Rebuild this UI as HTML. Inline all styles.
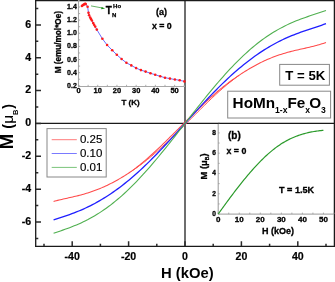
<!DOCTYPE html>
<html><head><meta charset="utf-8"><style>
html,body{margin:0;padding:0;background:#fff;}
body{width:335px;height:282px;overflow:hidden;}
svg{display:block;font-family:"Liberation Sans",sans-serif;will-change:transform;}
text{font-family:"Liberation Sans",sans-serif;}
.s{stroke:#000;stroke-width:0.3px;}
.t{stroke:#000;stroke-width:0.2px;}
</style></head><body>
<svg width="335" height="282" viewBox="0 0 335 282">
<rect width="335" height="282" fill="#fff"/>

<line x1="35" y1="123.4" x2="334" y2="123.4" stroke="#1a1a1a" stroke-width="1.4"/>
<line x1="185" y1="0" x2="185" y2="246" stroke="#6e6e6e" stroke-width="2"/>
<path d="M53.59,201.43 L54.96,201.07 L56.33,200.72 L57.69,200.37 L59.06,200.04 L60.43,199.72 L61.80,199.40 L63.17,199.09 L64.54,198.78 L65.91,198.47 L67.28,198.17 L68.65,197.86 L70.01,197.56 L71.38,197.25 L72.75,196.93 L74.12,196.61 L75.49,196.29 L76.86,195.96 L78.23,195.62 L79.60,195.27 L80.97,194.91 L82.33,194.54 L83.70,194.16 L85.07,193.76 L86.44,193.36 L87.81,192.94 L89.18,192.50 L90.55,192.05 L91.92,191.59 L93.29,191.11 L94.66,190.61 L96.02,190.10 L97.39,189.57 L98.76,189.03 L100.13,188.46 L101.50,187.89 L102.87,187.29 L104.24,186.68 L105.61,186.06 L106.98,185.42 L108.34,184.76 L109.71,184.08 L111.08,183.39 L112.45,182.69 L113.82,181.97 L115.19,181.23 L116.56,180.48 L117.93,179.71 L119.30,178.92 L120.66,178.12 L122.03,177.30 L123.40,176.47 L124.77,175.62 L126.14,174.75 L127.51,173.87 L128.88,172.97 L130.25,172.05 L131.62,171.10 L132.98,170.10 L134.35,169.08 L135.72,168.05 L137.09,166.99 L138.46,165.92 L139.83,164.82 L141.20,163.72 L142.57,162.59 L143.94,161.45 L145.30,160.29 L146.67,159.11 L148.04,157.92 L149.41,156.71 L150.78,155.49 L152.15,154.25 L153.52,153.01 L154.89,151.75 L156.26,150.47 L157.62,149.19 L158.99,147.89 L160.36,146.59 L161.73,145.28 L163.10,143.96 L164.47,142.63 L165.84,141.29 L167.21,139.95 L168.58,138.60 L169.94,137.24 L171.31,135.88 L172.68,134.52 L174.05,133.15 L175.42,131.78 L176.79,130.41 L178.16,129.04 L179.53,127.67 L180.90,126.29 L182.27,124.92 L183.63,123.55 L185.00,122.18 L186.37,120.81 L187.74,119.44 L189.11,118.08 L190.48,116.72 L191.85,115.37 L193.22,114.02 L194.59,112.68 L195.95,111.34 L197.32,110.01 L198.69,108.69 L200.06,107.38 L201.43,106.07 L202.80,104.77 L204.17,103.49 L205.54,102.21 L206.91,100.94 L208.27,99.69 L209.64,98.44 L211.01,97.21 L212.38,95.99 L213.75,94.79 L215.12,93.59 L216.49,92.42 L217.86,91.25 L219.23,90.11 L220.59,88.97 L221.96,87.86 L223.33,86.76 L224.70,85.67 L226.07,84.60 L227.44,83.55 L228.81,82.52 L230.18,81.51 L231.55,80.51 L232.91,79.53 L234.28,78.56 L235.65,77.62 L237.02,76.69 L238.39,75.78 L239.76,74.85 L241.13,73.93 L242.50,73.03 L243.87,72.14 L245.23,71.28 L246.60,70.43 L247.97,69.59 L249.34,68.77 L250.71,67.97 L252.08,67.19 L253.45,66.42 L254.82,65.67 L256.19,64.93 L257.55,64.21 L258.92,63.50 L260.29,62.81 L261.66,62.14 L263.03,61.48 L264.40,60.84 L265.77,60.21 L267.14,59.60 L268.51,59.01 L269.87,58.43 L271.24,57.87 L272.61,57.33 L273.98,56.80 L275.35,56.29 L276.72,55.79 L278.09,55.31 L279.46,54.85 L280.83,54.40 L282.20,53.96 L283.56,53.54 L284.93,53.13 L286.30,52.74 L287.67,52.36 L289.04,51.99 L290.41,51.63 L291.78,51.28 L293.15,50.94 L294.52,50.61 L295.88,50.28 L297.25,49.97 L298.62,49.65 L299.99,49.34 L301.36,49.04 L302.73,48.73 L304.10,48.43 L305.47,48.12 L306.84,47.81 L308.20,47.50 L309.57,47.18 L310.94,46.86 L312.31,46.52 L313.68,46.18 L315.05,45.83 L316.42,45.46 L317.79,45.08 L319.16,44.69 L320.52,44.28 L321.89,43.84 L323.26,43.39 L324.63,42.91 L326.00,42.41" fill="none" stroke="#ff4a4a" stroke-width="1.05"/>
<path d="M131.42,171.24 L132.78,170.34 L134.13,169.43 L135.49,168.49 L136.85,167.54 L138.20,166.57 L139.56,165.59 L140.92,164.59 L142.27,163.57 L143.63,162.53 L144.98,161.47 L146.34,160.40 L147.70,159.32 L149.05,158.22 L150.41,157.10 L151.77,155.96 L153.12,154.82 L154.48,153.65 L155.84,152.48 L157.19,151.28 L158.55,150.08 L159.91,148.86 L161.26,147.64 L162.62,146.40 L163.97,145.15 L165.33,143.88 L166.69,142.61 L168.04,141.33 L169.40,140.04 L170.76,138.74 L172.11,137.43 L173.47,136.12 L174.83,134.80 L176.18,133.47 L177.54,132.13 L178.90,130.80 L180.25,129.45 L181.61,128.10 L182.97,126.75 L184.32,125.40 L185.68,124.04 L187.03,122.68 L188.39,121.32 L189.75,119.96 L191.10,118.60 L192.46,117.24 L193.82,115.88 L195.17,114.52 L196.53,113.17 L197.89,111.81 L199.24,110.46 L200.60,109.12 L201.96,107.78 L203.31,106.44 L204.67,105.12 L206.03,103.79 L207.38,102.48 L208.74,101.17 L210.09,99.87 L211.45,98.58 L212.81,97.30 L214.16,96.04 L215.52,94.78 L216.88,93.53 L218.23,92.30 L219.59,91.08 L220.95,89.87 L222.30,88.68 L223.66,87.50 L225.02,86.34 L226.37,85.20 L227.73,84.07 L229.08,82.95 L230.44,81.86 L231.80,80.78 L233.15,79.72 L234.51,78.68 L235.87,77.65 L237.22,76.65 L238.58,75.66" fill="none" stroke="#ff4a4a" stroke-width="1.0"/>
<path d="M53.59,219.94 L55.88,219.18 L58.17,218.42 L60.46,217.66 L62.74,216.90 L65.03,216.12 L67.32,215.33 L69.61,214.52 L71.90,213.68 L74.19,212.82 L76.48,211.93 L78.77,211.01 L81.06,210.05 L83.35,209.06 L85.64,208.02 L87.93,206.94 L90.21,205.82 L92.50,204.66 L94.79,203.45 L97.08,202.19 L99.37,200.89 L101.66,199.54 L103.95,198.15 L106.24,196.71 L108.53,195.23 L110.82,193.70 L113.11,192.13 L115.40,190.51 L117.68,188.85 L119.97,187.15 L122.26,185.41 L124.55,183.62 L126.84,181.78 L129.13,179.91 L131.42,177.99 L133.71,176.02 L136.00,174.02 L138.29,171.97 L140.58,169.88 L142.87,167.74 L145.16,165.57 L147.44,163.36 L149.73,161.12 L152.02,158.83 L154.31,156.52 L156.60,154.18 L158.89,151.80 L161.18,149.40 L163.47,146.98 L165.76,144.54 L168.05,142.07 L170.34,139.59 L172.63,137.10 L174.91,134.59 L177.20,132.07 L179.49,129.55 L181.78,127.01 L184.07,124.48 L186.36,121.94 L188.65,119.41 L190.94,116.88 L193.23,114.35 L195.52,111.84 L197.81,109.33 L200.10,106.84 L202.38,104.36 L204.67,101.90 L206.96,99.46 L209.25,97.04 L211.54,94.65 L213.83,92.28 L216.12,89.94 L218.41,87.63 L220.70,85.36 L222.99,83.12 L225.28,80.92 L227.57,78.75 L229.85,76.63 L232.14,74.54 L234.43,72.50 L236.72,70.50 L239.01,68.55 L241.30,66.64 L243.59,64.77 L245.88,62.94 L248.17,61.16 L250.46,59.42 L252.75,57.73 L255.04,56.08 L257.32,54.47 L259.61,52.91 L261.90,51.39 L264.19,49.91 L266.48,48.48 L268.77,47.10 L271.06,45.76 L273.35,44.47 L275.64,43.22 L277.93,42.02 L280.22,40.86 L282.51,39.75 L284.79,38.68 L287.08,37.65 L289.37,36.67 L291.66,35.72 L293.95,34.80 L296.24,33.91 L298.53,33.06 L300.82,32.23 L303.11,31.42 L305.40,30.63 L307.69,29.86 L309.98,29.09 L312.26,28.34 L314.55,27.58 L316.84,26.82 L319.13,26.06 L321.42,25.28 L323.71,24.48 L326.00,23.66" fill="none" stroke="#2020ff" stroke-width="1.3"/>
<path d="M53.59,233.19 L55.88,232.43 L58.17,231.67 L60.46,230.90 L62.74,230.12 L65.03,229.32 L67.32,228.50 L69.61,227.65 L71.90,226.77 L74.19,225.86 L76.48,224.91 L78.77,223.93 L81.06,222.89 L83.35,221.82 L85.64,220.70 L87.93,219.53 L90.21,218.30 L92.50,217.03 L94.79,215.70 L97.08,214.32 L99.37,212.88 L101.66,211.38 L103.95,209.83 L106.24,208.22 L108.53,206.55 L110.82,204.82 L113.11,203.03 L115.40,201.18 L117.68,199.28 L119.97,197.32 L122.26,195.30 L124.55,193.22 L126.84,191.09 L129.13,188.91 L131.42,186.67 L133.71,184.38 L136.00,182.04 L138.29,179.65 L140.58,177.21 L142.87,174.73 L145.16,172.21 L147.44,169.64 L149.73,167.03 L152.02,164.38 L154.31,161.70 L156.60,158.99 L158.89,156.24 L161.18,153.46 L163.47,150.66 L165.76,147.83 L168.05,144.98 L170.34,142.11 L172.63,139.23 L174.91,136.33 L177.20,133.42 L179.49,130.50 L181.78,127.57 L184.07,124.64 L186.36,121.71 L188.65,118.78 L190.94,115.85 L193.23,112.93 L195.52,110.02 L197.81,107.13 L200.10,104.24 L202.38,101.38 L204.67,98.53 L206.96,95.71 L209.25,92.91 L211.54,90.14 L213.83,87.40 L216.12,84.69 L218.41,82.01 L220.70,79.38 L222.99,76.78 L225.28,74.21 L227.57,71.70 L229.85,69.22 L232.14,66.80 L234.43,64.42 L236.72,62.09 L239.01,59.81 L241.30,57.58 L243.59,55.40 L245.88,53.28 L248.17,51.22 L250.46,49.21 L252.75,47.26 L255.04,45.37 L257.32,43.53 L259.61,41.75 L261.90,40.04 L264.19,38.38 L266.48,36.77 L268.77,35.23 L271.06,33.75 L273.35,32.32 L275.64,30.94 L277.93,29.63 L280.22,28.36 L282.51,27.15 L284.79,25.99 L287.08,24.87 L289.37,23.81 L291.66,22.79 L293.95,21.80 L296.24,20.86 L298.53,19.96 L300.82,19.09 L303.11,18.24 L305.40,17.42 L307.69,16.63 L309.98,15.85 L312.26,15.08 L314.55,14.33 L316.84,13.57 L319.13,12.82 L321.42,12.05 L323.71,11.28 L326.00,10.48" fill="none" stroke="#50b050" stroke-width="1.1"/>
<path d="M35.7,0 V246.4 M35,0.5 H335 M334.4,0 V247 M35,246.4 H335" stroke="#1a1a1a" stroke-width="1.3" fill="none"/>
<path d="M36,238.39 h2.3 M36,221.97 h5.0 M36,205.55 h2.3 M36,189.13 h5.0 M36,172.71 h2.3 M36,156.29 h5.0 M36,139.87 h2.3 M36,123.45 h5.0 M36,107.03 h2.3 M36,90.61 h5.0 M36,74.19 h2.3 M36,57.77 h5.0 M36,41.35 h2.3 M36,24.93 h5.0 M36,8.51 h2.3 M44.00,246 v-2.3 M72.20,246 v-4.7 M100.40,246 v-2.3 M128.60,246 v-4.7 M156.80,246 v-2.3 M185.00,246 v-4.7 M213.20,246 v-2.3 M241.40,246 v-4.7 M269.60,246 v-2.3 M297.80,246 v-4.7 M326.00,246 v-2.3" stroke="#2a2a2a" stroke-width="1.5" fill="none"/>
<text x="31.2" y="27.78" font-size="10.6" font-weight="bold" text-anchor="end" class="t">6</text>
<text x="31.2" y="60.62" font-size="10.6" font-weight="bold" text-anchor="end" class="t">4</text>
<text x="31.2" y="93.46" font-size="10.6" font-weight="bold" text-anchor="end" class="t">2</text>
<text x="31.2" y="126.30" font-size="10.6" font-weight="bold" text-anchor="end" class="t">0</text>
<text x="31.2" y="159.14" font-size="10.6" font-weight="bold" text-anchor="end" class="t">-2</text>
<text x="31.2" y="191.98" font-size="10.6" font-weight="bold" text-anchor="end" class="t">-4</text>
<text x="31.2" y="224.82" font-size="10.6" font-weight="bold" text-anchor="end" class="t">-6</text>
<text x="72.20" y="259.7" font-size="10.6" font-weight="bold" text-anchor="middle" class="t">-40</text>
<text x="128.60" y="259.7" font-size="10.6" font-weight="bold" text-anchor="middle" class="t">-20</text>
<text x="185.00" y="259.7" font-size="10.6" font-weight="bold" text-anchor="middle" class="t">0</text>
<text x="241.40" y="259.7" font-size="10.6" font-weight="bold" text-anchor="middle" class="t">20</text>
<text x="297.80" y="259.7" font-size="10.6" font-weight="bold" text-anchor="middle" class="t">40</text>
<text x="187.3" y="277.9" font-size="14.8" font-weight="bold" text-anchor="middle">H (kOe)</text>
<text transform="translate(13.3,149.3) rotate(-90)" font-size="14.5" font-weight="bold"><tspan font-size="18.5">M</tspan><tspan dx="1.2"> (</tspan><tspan font-weight="normal" font-size="15.5">μ</tspan><tspan font-size="7.5" dy="5">B</tspan><tspan dy="-5" dx="0.7">)</tspan></text>
<path d="M78.5,0 V86.5 M78,86.5 H185" stroke="#a8a8a8" stroke-width="1.1" fill="none"/>
<path d="M78.50,86.2 v-1.4 M88.11,86.2 v-1.4 M97.72,86.2 v-1.4 M107.33,86.2 v-1.4 M116.94,86.2 v-1.4 M126.55,86.2 v-1.4 M136.16,86.2 v-1.4 M145.77,86.2 v-1.4 M155.38,86.2 v-1.4 M164.99,86.2 v-1.4 M174.60,86.2 v-1.4 M184.21,86.2 v-1.4 M78.5,85.80 h1.6 M78.5,79.23 h1.6 M78.5,72.67 h1.6 M78.5,66.10 h1.6 M78.5,59.53 h1.6 M78.5,52.97 h1.6 M78.5,46.40 h1.6 M78.5,39.83 h1.6 M78.5,33.26 h1.6 M78.5,26.70 h1.6 M78.5,20.13 h1.6 M78.5,13.56 h1.6 M78.5,7.00 h1.6 M78.5,0.43 h1.6" stroke="#999" stroke-width="0.8" fill="none"/>
<text x="76.8" y="87.80" font-size="7" font-weight="bold" text-anchor="end" class="s">0.2</text>
<text x="76.8" y="74.67" font-size="7" font-weight="bold" text-anchor="end" class="s">0.4</text>
<text x="76.8" y="61.53" font-size="7" font-weight="bold" text-anchor="end" class="s">0.6</text>
<text x="76.8" y="48.40" font-size="7" font-weight="bold" text-anchor="end" class="s">0.8</text>
<text x="76.8" y="35.26" font-size="7" font-weight="bold" text-anchor="end" class="s">1.0</text>
<text x="76.8" y="22.13" font-size="7" font-weight="bold" text-anchor="end" class="s">1.2</text>
<text x="76.8" y="9.00" font-size="7" font-weight="bold" text-anchor="end" class="s">1.4</text>
<text x="78.50" y="93.4" font-size="7.5" font-weight="bold" text-anchor="middle" class="s">0</text>
<text x="97.72" y="93.4" font-size="7.5" font-weight="bold" text-anchor="middle" class="s">10</text>
<text x="116.94" y="93.4" font-size="7.5" font-weight="bold" text-anchor="middle" class="s">20</text>
<text x="136.16" y="93.4" font-size="7.5" font-weight="bold" text-anchor="middle" class="s">30</text>
<text x="155.38" y="93.4" font-size="7.5" font-weight="bold" text-anchor="middle" class="s">40</text>
<text x="174.60" y="93.4" font-size="7.5" font-weight="bold" text-anchor="middle" class="s">50</text>
<text x="130.6" y="104.6" font-size="8" font-weight="bold" text-anchor="middle" class="s">T (K)</text>
<text transform="translate(61.2,42.2) rotate(-90)" font-size="8.2" font-weight="bold" text-anchor="middle" class="s">M (emu/mol*Oe)</text>
<text x="161.5" y="15" font-size="9" font-weight="bold" text-anchor="middle" class="s">(a)</text>
<text x="161.8" y="28.9" font-size="8.8" font-weight="bold" text-anchor="middle" class="s">x = 0</text>
<path d="M81.9,6.0 L82.7,5.3 L83.5,4.7 L84.3,4.2 L85.1,3.9 L85.7,4.0 L87.6,6.7 L88.5,12.8 L89.1,15.2 L90.2,17.6 L91.0,19.0 L91.9,20.5 L93.2,23.0 L94.1,24.8 L95.2,26.6 L96.8,29.6 L102.4,38.8 L107.1,45.0 L112.2,50.2 L116.8,54.8 L121.6,59.0 L126.4,62.8 L131.3,65.4 L136.1,68.1 L140.9,70.1 L145.6,71.6 L150.5,73.3 L155.2,74.7 L160.2,76.3 L165.0,77.7 L169.9,78.6 L174.9,79.5 L179.7,80.3 L184.4,81.4" stroke="#5a5aff" stroke-width="0.9" fill="none"/>
<circle cx="81.9" cy="6.0" r="1.3" fill="#ff1a1a"/>
<circle cx="82.7" cy="5.3" r="1.3" fill="#ff1a1a"/>
<circle cx="83.5" cy="4.7" r="1.3" fill="#ff1a1a"/>
<circle cx="84.3" cy="4.2" r="1.3" fill="#ff1a1a"/>
<circle cx="85.1" cy="3.9" r="1.3" fill="#ff1a1a"/>
<circle cx="85.7" cy="4.0" r="1.3" fill="#ff1a1a"/>
<circle cx="87.6" cy="6.7" r="1.3" fill="#ff1a1a"/>
<circle cx="88.5" cy="12.8" r="1.3" fill="#ff1a1a"/>
<circle cx="89.1" cy="15.2" r="1.3" fill="#ff1a1a"/>
<circle cx="90.2" cy="17.6" r="1.3" fill="#ff1a1a"/>
<circle cx="91.0" cy="19.0" r="1.3" fill="#ff1a1a"/>
<circle cx="91.9" cy="20.5" r="1.3" fill="#ff1a1a"/>
<circle cx="93.2" cy="23.0" r="1.3" fill="#ff1a1a"/>
<circle cx="94.1" cy="24.8" r="1.3" fill="#ff1a1a"/>
<circle cx="95.2" cy="26.6" r="1.3" fill="#ff1a1a"/>
<circle cx="96.8" cy="29.6" r="1.3" fill="#ff1a1a"/>
<circle cx="102.4" cy="38.8" r="1.3" fill="#ff1a1a"/>
<circle cx="107.1" cy="45.0" r="1.3" fill="#ff1a1a"/>
<circle cx="112.2" cy="50.2" r="1.3" fill="#ff1a1a"/>
<circle cx="116.8" cy="54.8" r="1.3" fill="#ff1a1a"/>
<circle cx="121.6" cy="59.0" r="1.3" fill="#ff1a1a"/>
<circle cx="126.4" cy="62.8" r="1.3" fill="#ff1a1a"/>
<circle cx="131.3" cy="65.4" r="1.3" fill="#ff1a1a"/>
<circle cx="136.1" cy="68.1" r="1.3" fill="#ff1a1a"/>
<circle cx="140.9" cy="70.1" r="1.3" fill="#ff1a1a"/>
<circle cx="145.6" cy="71.6" r="1.3" fill="#ff1a1a"/>
<circle cx="150.5" cy="73.3" r="1.3" fill="#ff1a1a"/>
<circle cx="155.2" cy="74.7" r="1.3" fill="#ff1a1a"/>
<circle cx="160.2" cy="76.3" r="1.3" fill="#ff1a1a"/>
<circle cx="165.0" cy="77.7" r="1.3" fill="#ff1a1a"/>
<circle cx="169.9" cy="78.6" r="1.3" fill="#ff1a1a"/>
<circle cx="174.9" cy="79.5" r="1.3" fill="#ff1a1a"/>
<circle cx="179.7" cy="80.3" r="1.3" fill="#ff1a1a"/>
<circle cx="184.4" cy="81.4" r="1.3" fill="#ff1a1a"/>
<line x1="91" y1="5.9" x2="102.5" y2="8" stroke="#40a040" stroke-width="0.8"/>
<path d="M105.1,8.5 L101.6,7.1 L101.2,9.2 Z" fill="#108a10"/>
<text x="105.7" y="13.9" font-size="10" font-weight="bold" stroke="#000" stroke-width="0.3">T</text>
<text x="111.9" y="17.1" font-size="6" font-weight="bold" stroke="#000" stroke-width="0.25">N</text>
<text x="113.1" y="8.1" font-size="6" font-weight="bold" stroke="#000" stroke-width="0.25">Ho</text>
<path d="M218.2,124 V214.1 H334" stroke="#999" stroke-width="1" fill="none"/>
<path d="M218.20,214.1 v-1.5 M228.72,214.1 v-1.5 M239.25,214.1 v-1.5 M249.77,214.1 v-1.5 M260.30,214.1 v-1.5 M270.82,214.1 v-1.5 M281.35,214.1 v-1.5 M291.88,214.1 v-1.5 M302.40,214.1 v-1.5 M312.92,214.1 v-1.5 M323.45,214.1 v-1.5 M333.98,214.1 v-1.5 M218.2,214.10 h1.5 M218.2,203.95 h1.5 M218.2,193.80 h1.5 M218.2,183.65 h1.5 M218.2,173.50 h1.5 M218.2,163.35 h1.5 M218.2,153.20 h1.5 M218.2,143.05 h1.5 M218.2,132.90 h1.5 M218.2,122.75 h1.5" stroke="#999" stroke-width="0.8" fill="none"/>
<text x="216" y="215.90" font-size="6.6" font-weight="bold" text-anchor="end" class="s">0</text>
<text x="216" y="195.60" font-size="6.6" font-weight="bold" text-anchor="end" class="s">2</text>
<text x="216" y="175.30" font-size="6.6" font-weight="bold" text-anchor="end" class="s">4</text>
<text x="216" y="155.00" font-size="6.6" font-weight="bold" text-anchor="end" class="s">6</text>
<text x="216" y="134.70" font-size="6.6" font-weight="bold" text-anchor="end" class="s">8</text>
<text x="218.20" y="221.8" font-size="8" font-weight="bold" text-anchor="middle" class="s">0</text>
<text x="239.25" y="221.8" font-size="8" font-weight="bold" text-anchor="middle" class="s">10</text>
<text x="260.30" y="221.8" font-size="8" font-weight="bold" text-anchor="middle" class="s">20</text>
<text x="281.35" y="221.8" font-size="8" font-weight="bold" text-anchor="middle" class="s">30</text>
<text x="302.40" y="221.8" font-size="8" font-weight="bold" text-anchor="middle" class="s">40</text>
<text x="323.45" y="221.8" font-size="8" font-weight="bold" text-anchor="middle" class="s">50</text>
<text x="277.9" y="233.5" font-size="9" font-weight="bold" text-anchor="middle" class="s">H (kOe)</text>
<text transform="translate(206.6,166.4) rotate(-90)" font-size="9.4" font-weight="bold" text-anchor="middle" class="s">M (<tspan>μ</tspan><tspan font-size="5" dy="2">B</tspan><tspan dy="-2">)</tspan></text>
<text x="228" y="138.6" font-size="10" font-weight="bold" class="s">(b)</text>
<text x="226.5" y="154.2" font-size="8.8" font-weight="bold" class="s">x = 0</text>
<text x="279" y="193" font-size="9.1" font-weight="bold" class="s">T = 1.5K</text>
<path d="M218.30,213.91 L219.48,212.26 L220.66,210.62 L221.84,208.99 L223.02,207.36 L224.20,205.73 L225.39,204.12 L226.57,202.50 L227.75,200.90 L228.93,199.31 L230.11,197.72 L231.29,196.14 L232.47,194.57 L233.65,193.01 L234.83,191.46 L236.01,189.92 L237.19,188.39 L238.38,186.87 L239.56,185.37 L240.74,183.88 L241.92,182.40 L243.10,180.93 L244.28,179.48 L245.46,178.05 L246.64,176.62 L247.82,175.22 L249.00,173.83 L250.18,172.45 L251.37,171.10 L252.55,169.76 L253.73,168.44 L254.91,167.13 L256.09,165.85 L257.27,164.58 L258.45,163.34 L259.63,162.11 L260.81,160.91 L261.99,159.73 L263.17,158.57 L264.36,157.43 L265.54,156.31 L266.72,155.22 L267.90,154.15 L269.08,153.11 L270.26,152.09 L271.44,151.09 L272.62,150.13 L273.80,149.18 L274.98,148.27 L276.16,147.38 L277.34,146.52 L278.53,145.68 L279.71,144.88 L280.89,144.10 L282.07,143.35 L283.25,142.63 L284.43,141.93 L285.61,141.25 L286.79,140.61 L287.97,139.98 L289.15,139.38 L290.33,138.81 L291.52,138.26 L292.70,137.73 L293.88,137.22 L295.06,136.73 L296.24,136.27 L297.42,135.82 L298.60,135.40 L299.78,135.00 L300.96,134.61 L302.14,134.24 L303.32,133.90 L304.51,133.57 L305.69,133.25 L306.87,132.96 L308.05,132.68 L309.23,132.41 L310.41,132.17 L311.59,131.93 L312.77,131.72 L313.95,131.51 L315.13,131.32 L316.31,131.14 L317.50,130.98 L318.68,130.82 L319.86,130.68 L321.04,130.55 L322.22,130.43 L323.40,130.32" stroke="#2a9a2a" stroke-width="1.2" fill="none"/>
<rect x="47" y="128.6" width="59.2" height="48.4" fill="#fff" stroke="#888" stroke-width="1"/>
<line x1="51.7" y1="139.7" x2="76.8" y2="139.7" stroke="#ff7a7a" stroke-width="1"/>
<text x="79.9" y="143.2" font-size="11.5" stroke="#000" stroke-width="0.15">0.25</text>
<line x1="51.7" y1="153.5" x2="76.8" y2="153.5" stroke="#7a7aff" stroke-width="1"/>
<text x="79.9" y="157.0" font-size="11.5" stroke="#000" stroke-width="0.15">0.10</text>
<line x1="51.7" y1="167.4" x2="76.8" y2="167.4" stroke="#7ac47a" stroke-width="1"/>
<text x="79.9" y="170.9" font-size="11.5" stroke="#000" stroke-width="0.15">0.01</text>
<rect x="279.7" y="64.4" width="49.7" height="20.8" fill="#fff" stroke="#888" stroke-width="1"/>
<text x="285.3" y="79.6" font-size="13.2" font-weight="bold">T = 5K</text>
<rect x="227.7" y="91.2" width="102.9" height="26.8" fill="#fff" stroke="#888" stroke-width="1"/>
<text x="232.6" y="108.4" font-size="15.3" font-weight="bold">HoMn<tspan font-size="8.6" dy="5">1-x</tspan><tspan dy="-5">Fe</tspan><tspan font-size="8.6" dy="5" dx="-0.2">x</tspan><tspan dy="-5" dx="-0.8">O</tspan><tspan font-size="8.6" dy="5">3</tspan></text>
</svg></body></html>
